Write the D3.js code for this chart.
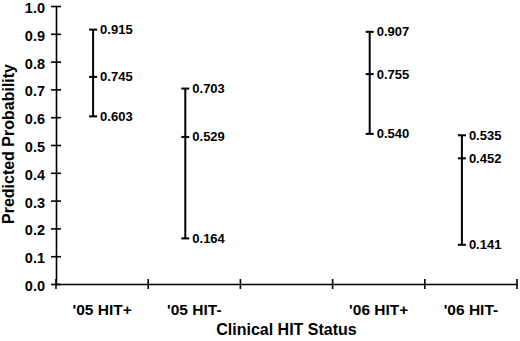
<!DOCTYPE html>
<meta charset="utf-8">
<style>
body { margin: 0; background: #fff; }
text { font-family: Arial, "Liberation Sans", sans-serif; font-weight: bold; fill: #000; }
.domain, .tick line { stroke: #000; stroke-width: 1.6px; }
</style>
<body>
<script src="https://d3js.org/d3.v7.min.js"></script>
<script>

// slots on the x axis, one is left blank between the two years
var categories = ["'05 HIT+", "'05 HIT-", "", "'06 HIT+", "'06 HIT-"];
var highs = [0.915, 0.703, null, 0.907, 0.535];
var mids  = [0.745, 0.529, null, 0.755, 0.452];
var lows  = [0.603, 0.164, null, 0.540, 0.141];
var yTicks = [0, 0.1, 0.2, 0.3, 0.4, 0.5, 0.6, 0.7, 0.8, 0.9, 1.0];

var width = 520, height = 341;
var margin = {top: 6, right: 3, bottom: 57, left: 56};

var svg = d3.select("body").append("svg")
	.attr("width", width)
	.attr("height", height);

var g = svg.append("g")
	.attr("transform", "translate(" + margin.left + "," + margin.top + ")");

var w = width - margin.left - margin.right,
    h = height - margin.top - margin.bottom;

var x = d3.scaleBand()
	.domain(d3.range(categories.length))
	.range([0, w])
	.padding(0);

var y = d3.scaleLinear()
	.domain([0, 1])
	.range([h, 0]);

// y axis, ticks cross the line
var yAxis = g.append("g")
	.call(d3.axisLeft(y).tickValues(yTicks).tickFormat(d3.format(".1f")).tickSizeInner(5).tickSizeOuter(0));
yAxis.selectAll(".tick line").attr("x2", 5).attr("x1", -5);
yAxis.selectAll(".tick text").attr("x", -11).attr("dy", "0.45em").style("font-size", "14.5px");

// x axis: labels centred in slots, tick marks on the slot edges
var xAxis = g.append("g")
	.attr("transform", "translate(0," + h + ")")
	.call(d3.axisBottom(x).tickFormat(function(i) { return categories[i]; }).tickSize(0));
xAxis.selectAll(".tick text").attr("y", 20).style("font-size", "15.5px");

var edges = x.domain().map(function(i) { return x(i); }).concat([w]);
xAxis.selectAll(".edge")
	.data(edges)
	.enter().append("line")
	.attr("class", "edge")
	.attr("x1", function(d) { return d; })
	.attr("x2", function(d) { return d; })
	.attr("y1", -5)
	.attr("y2", 5)
	.attr("stroke", "#000")
	.attr("stroke-width", 1.6);

// high-low bars
var rows = x.domain().filter(function(i) { return highs[i] != null; });
var off = -9, cap = 4;
function cx(i) { return x(i) + x.bandwidth() / 2 + off; }

var bars = g.append("g").selectAll("g")
	.data(rows)
	.enter().append("g");

bars.append("line")
	.attr("x1", cx).attr("x2", cx)
	.attr("y1", function(i) { return y(highs[i]); })
	.attr("y2", function(i) { return y(lows[i]); })
	.attr("stroke", "#000").attr("stroke-width", 2);

[highs, mids, lows].forEach(function(arr) {
	bars.append("line")
		.attr("x1", function(i) { return cx(i) - cap; })
		.attr("x2", function(i) { return cx(i) + cap; })
		.attr("y1", function(i) { return y(arr[i]); })
		.attr("y2", function(i) { return y(arr[i]); })
		.attr("stroke", "#000").attr("stroke-width", 2);
	bars.append("text")
		.attr("x", function(i) { return cx(i) + 7; })
		.attr("y", function(i) { return y(arr[i]); })
		.attr("dy", "0.35em")
		.style("font-size", "13px")
		.text(function(i) { return d3.format(".3f")(arr[i]); });
});

// axis titles
g.append("text")
	.attr("x", w / 2)
	.attr("y", h + 51)
	.attr("text-anchor", "middle")
	.style("font-size", "16px")
	.text("Clinical HIT Status");

g.append("text")
	.attr("transform", "rotate(-90)")
	.attr("x", -144 + margin.top)
	.attr("y", -margin.left + 14)
	.attr("text-anchor", "middle")
	.style("font-size", "16px")
	.text("Predicted Probability");

</script>
</body>
